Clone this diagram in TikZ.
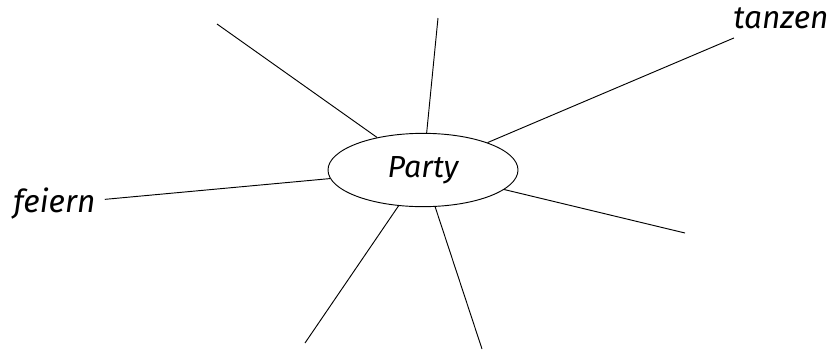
\documentclass[tikz,border=0pt]{standalone}
\usepackage{fontspec}
\setmainfont{Fira Sans}
\usetikzlibrary{shapes.geometric}

\begin{document}
\begin{tikzpicture}[x=0.03cm, y=-0.03cm,
		hub/.style={ellipse, draw, thick, minimum width=5.7cm, minimum height=2.2cm,
				font=\fontsize{26}{30}\selectfont\itshape},
		word/.style={inner sep=2pt, outer sep=6pt, font=\fontsize{27}{30}\selectfont\itshape}]
		\useasboundingbox (0,0) rectangle (827,350);
		\node[hub] (party) at (423,170) {Party};
		\node[word, anchor=west] (feiern) at (4,204) {feiern};
		\node[word, anchor=west] (tanzen) at (724,18) {tanzen};
		\draw[thick] (party) -- (feiern);
		\draw[thick] (party) -- (tanzen);
		\foreach \n/\x/\y in {ul/217/24, up/438/18, rl/685/233, dl/305/343, dr/482/349} {
				\coordinate (\n) at (\x,\y);
				\draw[thick] (party) -- (\n);
			}
	\end{tikzpicture}
\end{document}
